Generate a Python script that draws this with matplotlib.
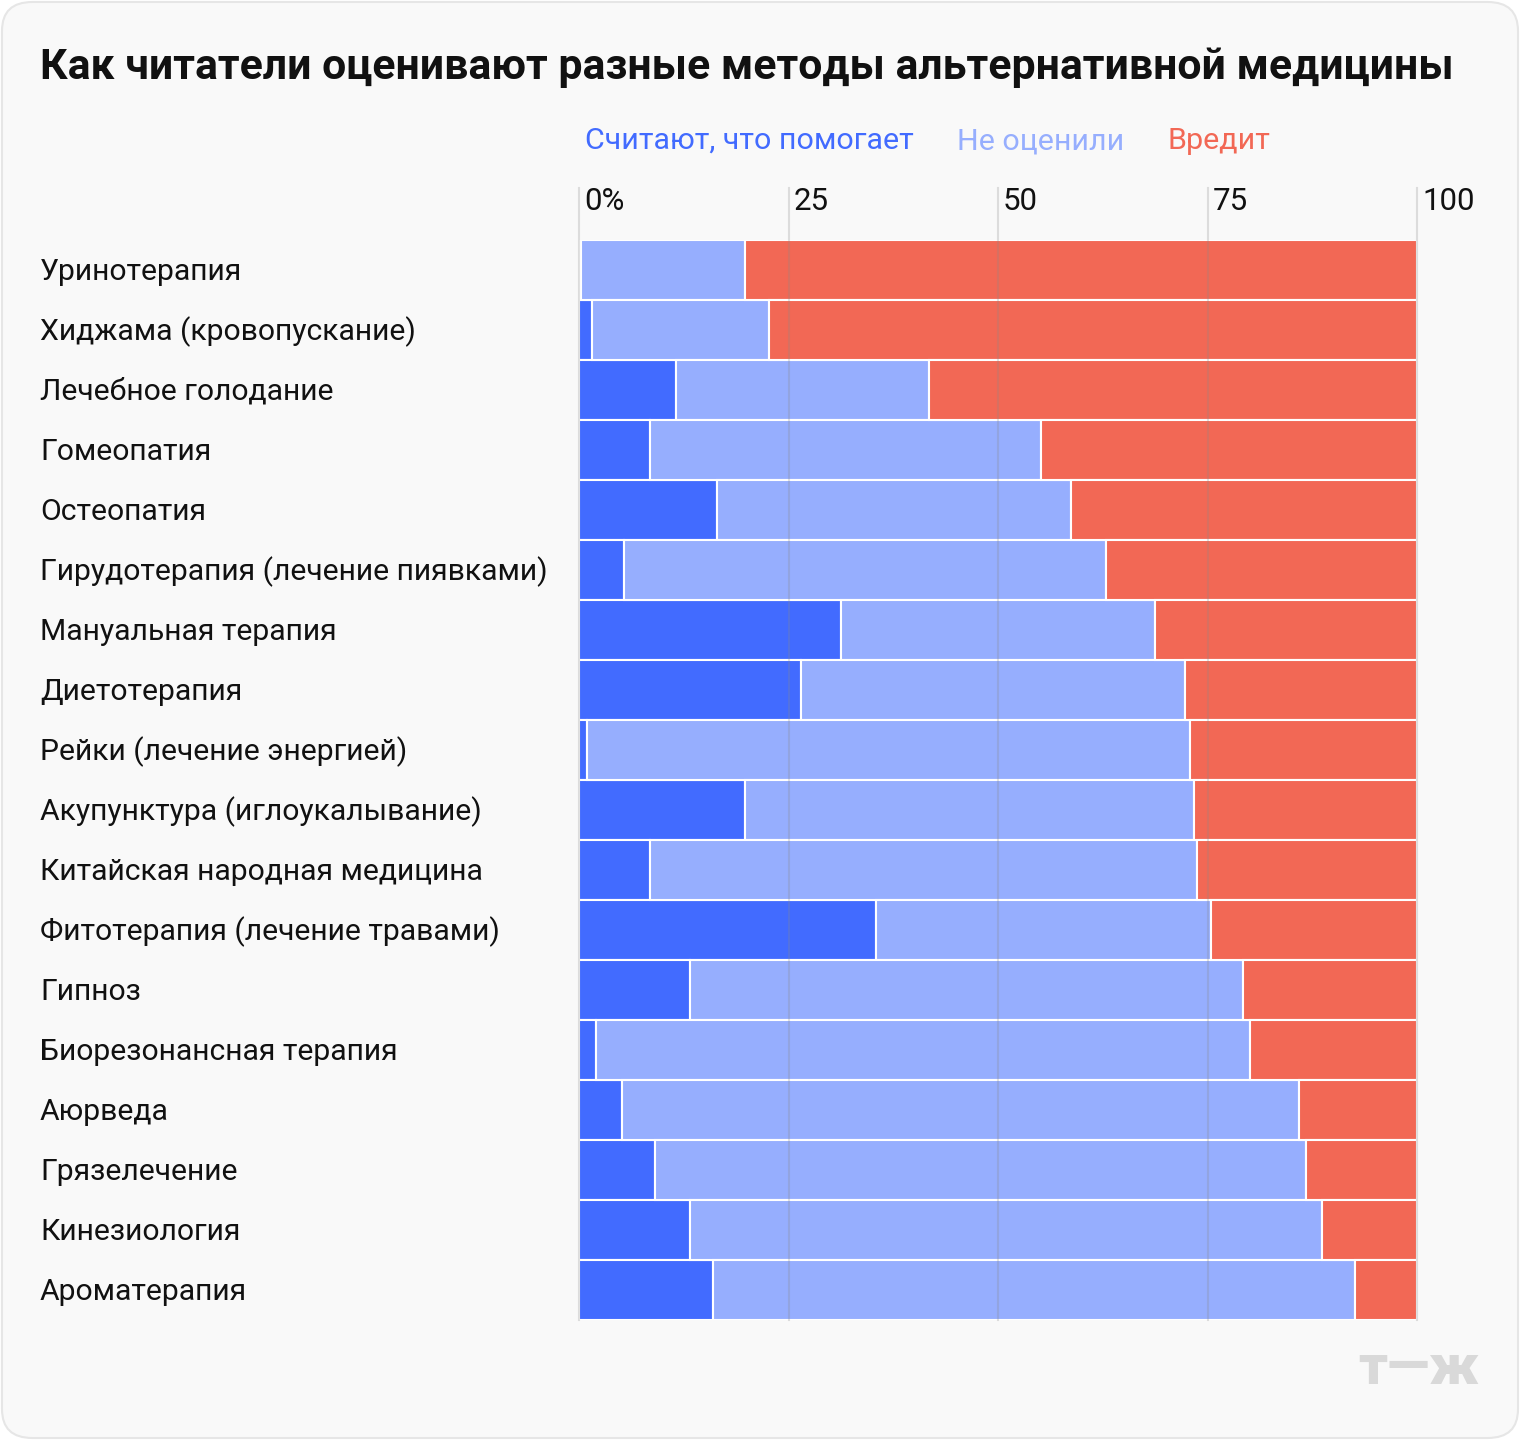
import matplotlib
matplotlib.use("Agg")
import matplotlib.pyplot as plt
from matplotlib.patches import FancyBboxPatch

plt.rcParams['font.family'] = ['Roboto', 'DejaVu Sans']

categories = [
    "Уринотерапия", "Хиджама (кровопускание)", "Лечебное голодание", "Гомеопатия",
    "Остеопатия", "Гирудотерапия (лечение пиявками)", "Мануальная терапия", "Диетотерапия",
    "Рейки (лечение энергией)", "Акупунктура (иглоукалывание)", "Китайская народная медицина",
    "Фитотерапия (лечение травами)", "Гипноз", "Биорезонансная терапия", "Аюрведа",
    "Грязелечение", "Кинезиология", "Ароматерапия",
]
helps = [0.2, 1.5, 11.6, 8.5, 16.5, 5.4, 31.3, 26.5, 1.0, 19.8, 8.5, 35.4, 13.2, 2.0, 5.1, 9.1, 13.2, 16.0]
not_rated = [19.6, 21.2, 30.2, 46.6, 42.2, 57.5, 37.4, 45.8, 71.9, 53.6, 65.2, 40.0, 66.0, 78.1, 80.8, 77.7, 75.5, 76.6]
harms = [100 - h - n for h, n in zip(helps, not_rated)]
ticks = [0, 25, 50, 75, 100]
tick_labels = ["0%", "25", "50", "75", "100"]
series_names = ["Считают, что помогает", "Не оценили", "Вредит"]

C_BLUE = "#426bff"
C_LIGHT = "#96aefe"
C_RED = "#f26855"
BG = "#f9f9f9"

W, H = 1520, 1440
fig = plt.figure(figsize=(W / 100, H / 100), dpi=100)
fig.patch.set_facecolor("white")
bg = FancyBboxPatch((2 / W, 2 / H), 1 - 4 / W, 1 - 4 / H,
                    boxstyle="round,pad=0,rounding_size=0.02",
                    transform=fig.transFigure, facecolor=BG, edgecolor="#e6e6e6",
                    linewidth=1.5, zorder=-10)
fig.patches.append(bg)

ax = fig.add_axes([579 / W, 1 - 1320 / H, 838 / W, 1080 / H])
ax.set_facecolor("none")
n = len(categories)
y = list(range(n))
left2 = [h for h in helps]
left3 = [h + m for h, m in zip(helps, not_rated)]
kw = dict(height=1.0, edgecolor="white", linewidth=1.5, zorder=2)
ax.barh(y, helps, color=C_BLUE, **kw)
ax.barh(y, not_rated, left=left2, color=C_LIGHT, **kw)
ax.barh(y, harms, left=left3, color=C_RED, **kw)
ax.set_xlim(0, 100)
ax.set_ylim(n - 0.5, -0.5)
ax.axis("off")

top = (1320 - 188) / 1080
for t, lab in zip(ticks, tick_labels):
    ax.plot([t, t], [n - 0.5, -0.5 - (top - 1) * n], color="#888888", alpha=0.25,
            linewidth=1.5, zorder=5, clip_on=False)
    ax.text(t + 0.6, -0.5 - (1320 - 202 - 1080) / 1080 * n * 1.0, lab, fontsize=22.5,
            color="#111111", ha="left", va="center", zorder=6)

for i, c in enumerate(categories):
    fig.text(40 / W, 1 - (272 + 60 * i) / H, c, fontsize=21.7, color="#111111",
             ha="left", va="center")

fig.text(40 / W, 1 - 67 / H, "Как читатели оценивают разные методы альтернативной медицины",
         fontsize=30.8, fontweight="bold", color="#111111", ha="left", va="center")

leg_x = [585, 957, 1167]
for x, name, col in zip(leg_x, series_names, [C_BLUE, C_LIGHT, C_RED]):
    fig.text(x / W, 1 - 141 / H, name, fontsize=21.9, color=col, ha="left", va="center")

fig.text(1419 / W, 1 - 1369 / H, "т—ж", fontsize=40, fontweight="black",
         color="#d9d9d9", ha="center", va="center")

fig.savefig("out.png", dpi=100, facecolor="white")
